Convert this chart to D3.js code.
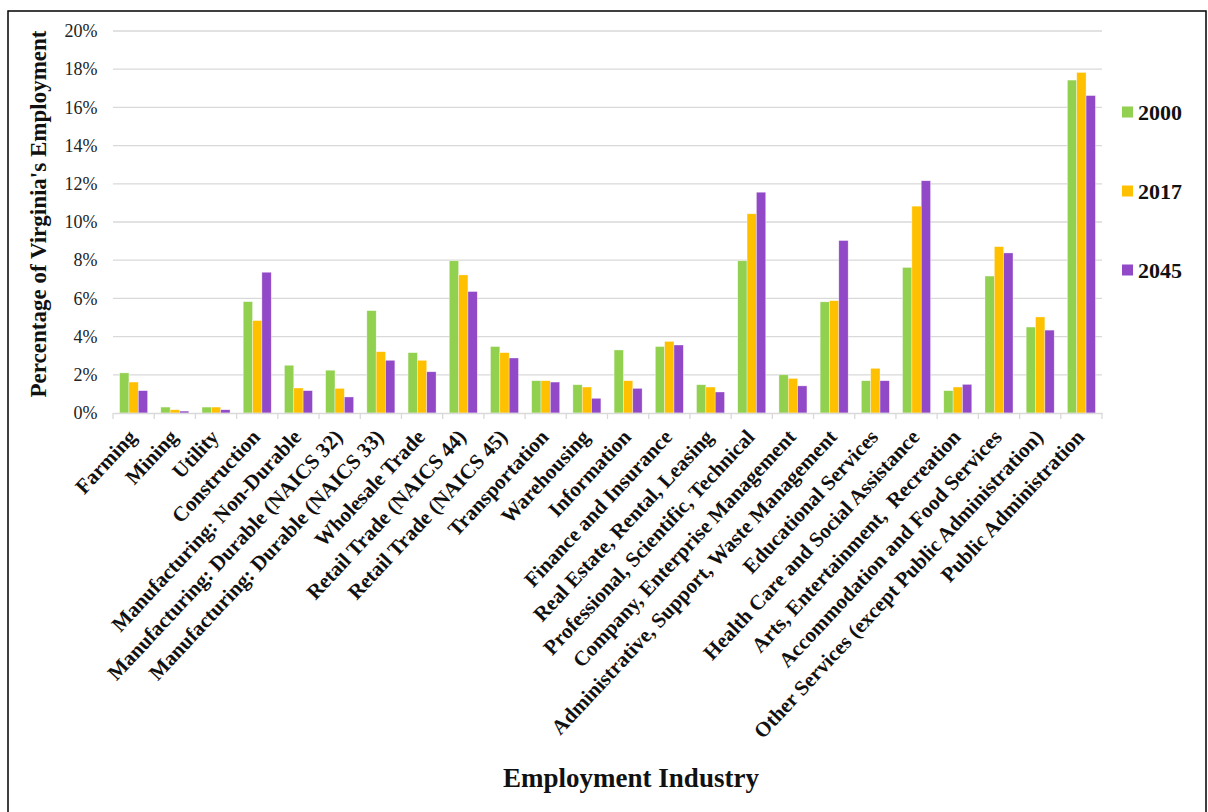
<!DOCTYPE html>
<html><head><meta charset="utf-8">
<script src="https://cdn.jsdelivr.net/npm/d3@7"></script>
<style>body{margin:0;background:#fff}</style>
</head><body>
<svg id="chart" width="1208" height="812"></svg>
<script>
const categories = ["Farming","Mining","Utility","Construction","Manufacturing: Non-Durable","Manufacturing: Durable (NAICS 32)","Manufacturing: Durable (NAICS 33)","Wholesale Trade","Retail Trade (NAICS 44)","Retail Trade (NAICS 45)","Transportation","Warehousing","Information","Finance and Insurance","Real Estate, Rental, Leasing","Professional, Scientific, Technical","Company, Enterprise Management","Administrative, Support, Waste Management","Educational Services","Health Care and Social Assistance","Arts, Entertainment,  Recreation","Accommodation and Food Services","Other Services (except Public Administration)","Public Administration"];
const seriesNames = ["2000","2017","2045"];
const v2000 = [2.1,0.31,0.31,5.83,2.5,2.24,5.36,3.16,7.97,3.48,1.69,1.48,3.3,3.48,1.48,7.97,2.0,5.82,1.69,7.62,1.17,7.17,4.5,17.43];
const v2017 = [1.62,0.17,0.31,4.84,1.31,1.29,3.21,2.76,7.23,3.16,1.69,1.36,1.69,3.75,1.36,10.43,1.81,5.88,2.34,10.83,1.36,8.71,5.03,17.83];
const v2045 = [1.17,0.1,0.17,7.37,1.17,0.84,2.76,2.16,6.36,2.88,1.62,0.77,1.29,3.56,1.1,11.56,1.42,9.03,1.69,12.16,1.5,8.38,4.34,16.62];
const yTicks = [0,2,4,6,8,10,12,14,16,18,20];
const colors = ["#92d050","#ffc000","#9149c8"];
const values = [v2000, v2017, v2045];

(function(){
const svg = d3.select("#chart");
const serif = "'Liberation Serif','Times New Roman',serif";

svg.append("rect").attr("x",8).attr("y",11).attr("width",1198).attr("height",830)
  .attr("fill","none").attr("stroke","#000").attr("stroke-width",1.5);

const pLeft = 113, pRight = 1102, pTop = 31, pBottom = 413;
const x = d3.scaleBand().domain(categories).range([pLeft,pRight]).paddingInner(0.32).paddingOuter(0.16);
const xOuter = d3.scaleBand().domain(categories).range([pLeft,pRight]);
const x1 = d3.scaleBand().domain(seriesNames).range([0,x.bandwidth()]);
const y = d3.scaleLinear().domain([0,20]).range([pBottom,pTop]);

svg.append("g").selectAll("line").data(yTicks.slice(1)).join("line")
  .attr("x1",pLeft).attr("x2",pRight).attr("y1",d=>y(d)).attr("y2",d=>y(d))
  .attr("stroke","#d9d9d9").attr("stroke-width",1.3);

const yAxis = d3.axisLeft(y).tickValues(yTicks).tickFormat(d=>d+"%").tickSize(0).tickPadding(15.5);
const yg = svg.append("g").attr("transform",`translate(${pLeft},0)`).call(yAxis);
yg.select(".domain").remove();
yg.selectAll("text").attr("font-family",serif).attr("font-size",18).attr("fill","#222");

const groups = svg.append("g").selectAll("g").data(categories).join("g")
  .attr("transform",d=>`translate(${x(d)},0)`);
groups.selectAll("rect").data((d,i)=>seriesNames.map((s,j)=>({s,v:values[j][i],c:colors[j]}))).join("rect")
  .attr("x",d=>x1(d.s)).attr("width",x1.bandwidth())
  .attr("y",d=>y(d.v)).attr("height",d=>pBottom-y(d.v))
  .attr("fill",d=>d.c).attr("stroke","#fff").attr("stroke-opacity",0.6).attr("stroke-width",0.6);

const xAxis = d3.axisBottom(xOuter).tickSize(0).tickFormat("");
const xg = svg.append("g").attr("transform",`translate(0,${pBottom})`).call(xAxis);
xg.select(".domain").attr("stroke","#d9d9d9").attr("stroke-width",1.3);
xg.selectAll(".tick").remove();
svg.append("g").selectAll("line").data(categories.map(c=>xOuter(c)).concat([pRight])).join("line")
  .attr("x1",d=>d).attr("x2",d=>d).attr("y1",pBottom).attr("y2",pBottom+6)
  .attr("stroke","#d9d9d9").attr("stroke-width",1.3);

svg.append("g").selectAll("text").data(categories).join("text")
  .attr("transform",d=>`translate(${xOuter(d)+xOuter.bandwidth()/2+4},${pBottom+25}) rotate(-47)`)
  .attr("text-anchor","end").attr("font-family",serif).attr("font-weight","bold")
  .attr("font-size",21).attr("fill","#111")
  .style("white-space","pre").text(d=>d);

svg.append("text").attr("transform","translate(46,214) rotate(-90)")
  .attr("text-anchor","middle").attr("font-family",serif).attr("font-weight","bold")
  .attr("font-size",23).attr("fill","#111").text("Percentage of Virginia's Employment");
svg.append("text").attr("x",631).attr("y",787).attr("text-anchor","middle")
  .attr("font-family",serif).attr("font-weight","bold").attr("font-size",27).attr("fill","#111")
  .text("Employment Industry");

const legendY = [112,191,270];
const lg = svg.append("g").selectAll("g").data(seriesNames).join("g")
  .attr("transform",(d,i)=>`translate(1122,${legendY[i]})`);
lg.append("rect").attr("x",0).attr("y",-5.5).attr("width",11).attr("height",11).attr("fill",(d,i)=>colors[i]);
lg.append("text").attr("x",16).attr("dy","0.35em").attr("font-family",serif).attr("font-weight","bold")
  .attr("font-size",22).attr("fill","#111").text(d=>d);
})();
</script>
</body></html>
